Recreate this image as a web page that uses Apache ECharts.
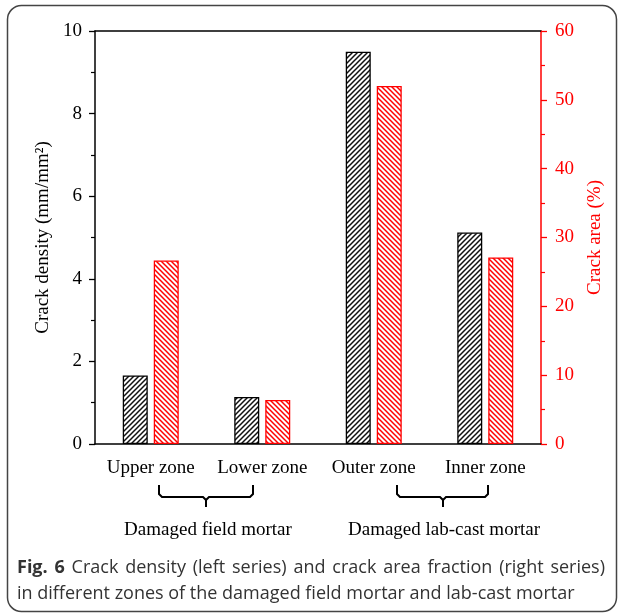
<!DOCTYPE html>
<html>
<head>
<meta charset="utf-8">
<script src="https://cdn.jsdelivr.net/npm/echarts@6/dist/echarts.min.js"></script>
<style>html,body{margin:0;padding:0;background:#fff;}#c{width:625px;height:615px;}</style>
</head>
<body>
<div id="c"></div>
<script>
const categories = ['Upper zone', 'Lower zone', 'Outer zone', 'Inner zone'];
const crackDensity = [1.66, 1.14, 9.5, 5.12];
const crackArea = [26.65, 6.4, 52.0, 27.1];
const leftTicks = [0, 2, 4, 6, 8, 10];
const rightTicks = [0, 10, 20, 30, 40, 50, 60];
const groupLabels = ['Damaged field mortar', 'Damaged lab-cast mortar'];
const captionBold = 'Fig. 6';
const captionLine1 = 'Crack density (left series) and crack area fraction (right series)';
const captionLine2 = 'in different zones of the damaged field mortar and lab-cast mortar';

function hatch(color, dir) {
  const s = 5;
  const c = document.createElement('canvas');
  c.width = s; c.height = s;
  const g = c.getContext('2d');
  g.fillStyle = '#fff';
  g.fillRect(0, 0, s, s);
  g.strokeStyle = color;
  g.lineWidth = 1.5;
  g.beginPath();
  if (dir === '/') {
    g.moveTo(-1, s + 1); g.lineTo(s + 1, -1);
    g.moveTo(-1, 1); g.lineTo(1, -1);
    g.moveTo(s - 1, s + 1); g.lineTo(s + 1, s - 1);
  } else {
    g.moveTo(-1, -1); g.lineTo(s + 1, s + 1);
    g.moveTo(-1, s - 1); g.lineTo(1, s + 1);
    g.moveTo(s - 1, -1); g.lineTo(s + 1, 1);
  }
  g.stroke();
  return c;
}

const serif = 'Liberation Serif, Times New Roman, serif';
const capFont = '18px "Open Sans"';
const capBoldFont = 'bold 18px "Open Sans"';

// justified first caption line (word layout only)
function justifiedWords(x0, x1, y) {
  const m = document.createElement('canvas').getContext('2d');
  const words = [];
  captionBold.split(' ').forEach(w => words.push({t: w, f: capBoldFont}));
  captionLine1.split(' ').forEach(w => words.push({t: w, f: capFont}));
  let total = 0;
  words.forEach(w => { m.font = w.f; w.w = m.measureText(w.t).width; total += w.w; });
  const gap = (x1 - x0 - total) / (words.length - 1);
  let x = x0;
  return words.map(w => {
    const el = {type: 'text', x: x, y: y, style: {text: w.t, font: w.f, fill: '#333', textAlign: 'left', textVerticalAlign: 'middle'}};
    x += w.w + gap;
    return el;
  });
}

const chart = echarts.init(document.getElementById('c'), null, {renderer: 'canvas'});
const plotL = 95, plotR = 541, plotT = 31, plotB = 444;

function render() {
chart.setOption({
  animation: false,
  backgroundColor: '#fff',
  grid: {left: plotL, right: 625 - plotR, top: plotT, bottom: 615 - plotB, containLabel: false},
  xAxis: [{
    type: 'category',
    data: categories,
    axisLine: {show: true, lineStyle: {color: '#000', width: 1.5}},
    axisTick: {show: false},
    axisLabel: {fontFamily: serif, fontSize: 19, color: '#000', margin: 15, interval: 0}
  }, {
    type: 'category',
    position: 'top',
    data: categories,
    axisLine: {show: true, onZero: false, lineStyle: {color: '#000', width: 1.5}},
    axisTick: {show: false},
    axisLabel: {show: false}
  }],
  yAxis: [{
    type: 'value',
    min: leftTicks[0], max: leftTicks[leftTicks.length - 1], interval: 2,
    name: 'Crack density (mm/mm\u00B2)',
    nameLocation: 'middle', nameRotate: 90, nameGap: 42,
    nameTextStyle: {fontFamily: serif, fontSize: 19, color: '#000'},
    axisLine: {show: true, lineStyle: {color: '#000', width: 1.5}},
    axisTick: {show: true, inside: false, length: 6, lineStyle: {color: '#000', width: 1.3}},
    minorTick: {show: true, splitNumber: 2, length: 4, lineStyle: {color: '#000', width: 1.2}},
    axisLabel: {fontFamily: serif, fontSize: 19, color: '#000', margin: 13},
    splitLine: {show: false}
  }, {
    type: 'value',
    position: 'right',
    min: rightTicks[0], max: rightTicks[rightTicks.length - 1], interval: 10,
    name: 'Crack area (%)',
    nameLocation: 'middle', nameRotate: 90, nameGap: 45,
    nameTextStyle: {fontFamily: serif, fontSize: 19, color: '#ff0000'},
    axisLine: {show: true, lineStyle: {color: '#ff0000', width: 1.5}},
    axisTick: {show: true, inside: false, length: 6, lineStyle: {color: '#ff0000', width: 1.3}},
    minorTick: {show: true, splitNumber: 2, length: 4, lineStyle: {color: '#ff0000', width: 1.2}},
    axisLabel: {fontFamily: serif, fontSize: 19, color: '#ff0000', margin: 14},
    splitLine: {show: false}
  }],
  series: [{
    type: 'bar',
    name: 'Crack density',
    data: crackDensity,
    xAxisIndex: 0, yAxisIndex: 0,
    barWidth: 25,
    barGap: '24%',
    itemStyle: {color: {image: hatch('#111', '/'), repeat: 'repeat'}, borderColor: '#000', borderWidth: 1.3}
  }, {
    type: 'bar',
    name: 'Crack area',
    data: crackArea,
    xAxisIndex: 0, yAxisIndex: 1,
    barWidth: 25,
    itemStyle: {color: {image: hatch('#ff0000', '\\'), repeat: 'repeat'}, borderColor: '#ff0000', borderWidth: 1.3}
  }],
  graphic: [
    {type: 'rect', shape: {x: 7.5, y: 5.5, width: 609, height: 606, r: 14}, style: {fill: null, stroke: '#444', lineWidth: 1.5}, silent: true},
    {type: 'polyline', shape: {points: [[159, 485], [159, 494], [162, 497], [203, 497], [206, 500], [206, 507]]}, style: {fill: null, stroke: '#000', lineWidth: 2}},
    {type: 'polyline', shape: {points: [[206, 500], [209, 497], [250, 497], [253, 494], [253, 485]]}, style: {fill: null, stroke: '#000', lineWidth: 2}},
    {type: 'polyline', shape: {points: [[397, 485], [397, 494], [400, 497], [440, 497], [443, 500], [443, 507]]}, style: {fill: null, stroke: '#000', lineWidth: 2}},
    {type: 'polyline', shape: {points: [[443, 500], [446, 497], [485, 497], [488, 494], [488, 485]]}, style: {fill: null, stroke: '#000', lineWidth: 2}},
    {type: 'text', x: 208, y: 530, style: {text: groupLabels[0], font: '19px ' + serif, fill: '#000', textAlign: 'center', textVerticalAlign: 'middle'}},
    {type: 'text', x: 444, y: 530, style: {text: groupLabels[1], font: '19px ' + serif, fill: '#000', textAlign: 'center', textVerticalAlign: 'middle'}},
    ...justifiedWords(17, 605, 568),
    {type: 'text', x: 17, y: 594, style: {text: captionLine2, font: capFont, fill: '#333', textAlign: 'left', textVerticalAlign: 'middle'}}
  ]
});
}
if (document.fonts && document.fonts.load) {
  Promise.all([document.fonts.load(capFont), document.fonts.load(capBoldFont)]).then(render, render);
} else { render(); }
render();
</script>
</body>
</html>
